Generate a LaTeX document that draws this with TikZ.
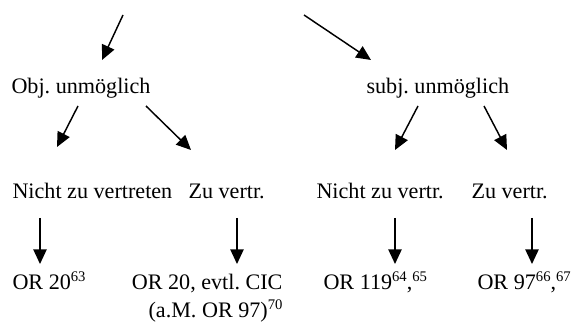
\documentclass[tikz,border=0pt]{standalone}
\usepackage{fontspec}
\setmainfont{Liberation Serif}
\usetikzlibrary{arrows.meta}
\frenchspacing

\newcommand{\hoch}[1]{\raisebox{0.36em}{\fontsize{11}{11}\selectfont #1}}

\tikzset{every picture/.style={line width=0.75pt}}
\tikzset{
  pfeil/.style={line width=1.1pt,-{Triangle[width=10pt,length=11pt]}},
  txt/.style={inner sep=0pt,font=\fontsize{16.6}{21}\selectfont}
}

\begin{document}
\begin{tikzpicture}[x=0.75pt,y=0.75pt,yscale=-1,xscale=1]
    \useasboundingbox (0,0) rectangle (581,331);

    % Text Node
    \node (obj) [txt,anchor=base west] at (11,94) {Obj. unmöglich};
    % Text Node
    \node (subj) [txt,anchor=base west] at (366,94) {subj. unmöglich};
    % Text Node
    \node (objnicht) [txt,anchor=base west] at (12,199) {Nicht zu vertreten};
    % Text Node
    \node (objzu) [txt,anchor=base west] at (188,199) {Zu vertr.};
    % Text Node
    \node (subjnicht) [txt,anchor=base west] at (316,199) {Nicht zu vertr.};
    % Text Node
    \node (subjzu) [txt,anchor=base west] at (471,199) {Zu vertr.};
    % Text Node
    \node (or20) [txt,anchor=base west] at (12,289) {OR 20\hoch{63}};
    % Text Node
    \node (cic) [txt,anchor=base east,align=right] at (283,317) {OR 20, evtl. CIC\\(a.M. OR 97)\hoch{70}};
    % Text Node
    \node (or119) [txt,anchor=base west] at (323,289) {OR 119\hoch{64},\hoch{65}};
    % Text Node
    \node (or97) [txt,anchor=base west] at (477,289) {OR 97\hoch{66},\hoch{67}};

    % Arrow ends
    \coordinate (a1) at (123,15);  \coordinate (b1) at (102,60);
    \coordinate (a2) at (304,15);  \coordinate (b2) at (371,60);
    \coordinate (a3) at (78,106);  \coordinate (b3) at (57,147);
    \coordinate (a4) at (146,106); \coordinate (b4) at (191,150);
    \coordinate (a5) at (418,106); \coordinate (b5) at (395,150);
    \coordinate (a6) at (484,106); \coordinate (b6) at (507,150);
    \coordinate (a7) at (40,218);  \coordinate (b7) at (40,264);
    \coordinate (a8) at (237,218); \coordinate (b8) at (237,264);
    \coordinate (a9) at (395,218); \coordinate (b9) at (395,264);
    \coordinate (a10) at (532,218); \coordinate (b10) at (532,264);

    %Straight Lines
    \foreach \i in {1,...,10}
      \draw [pfeil] (a\i) -- (b\i);

\end{tikzpicture}
\end{document}
